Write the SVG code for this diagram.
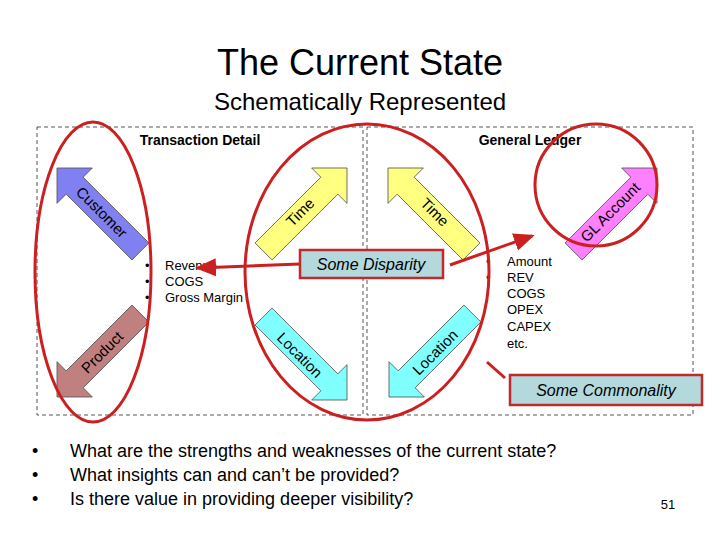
<svg xmlns="http://www.w3.org/2000/svg" width="720" height="540" viewBox="0 0 720 540">
<defs>
<style>
.t{font-family:"Liberation Sans",Arial,sans-serif;fill:#000}
.arr{stroke:#555;stroke-width:0.8}
.lbl{font-family:"Liberation Sans",Arial,sans-serif;font-size:15px;text-anchor:middle;dominant-baseline:central}
.panel{fill:none;stroke:#555;stroke-width:1;stroke-dasharray:4,3}
.ring{fill:none;stroke:#cc1f1f;stroke-width:3}
.box{fill:#b3d9dc;stroke:#c02a2a;stroke-width:2.5}
.rl{stroke:#cc1f1f;stroke-width:3;fill:none}
</style>
<path id="ar" d="M0,0 L-25,-25 L-25,-12 L-118,-12 L-118,12 L-25,12 L-25,25 Z"/>
<marker id="mh" markerWidth="8" markerHeight="8" refX="6" refY="4" orient="auto" markerUnits="strokeWidth"><path d="M0,1 L7,4 L0,7 Z" fill="#cc1f1f"/></marker>
</defs>
<rect width="720" height="540" fill="#fff"/>
<text class="t" x="360" y="75" font-size="36" text-anchor="middle">The Current State</text>
<text class="t" x="360" y="110" font-size="24" text-anchor="middle">Schematically Represented</text>
<rect class="panel" x="37" y="127" width="326" height="288"/>
<rect class="panel" x="367" y="127" width="326" height="288"/>
<text class="t" x="200" y="145" font-size="14" font-weight="bold" text-anchor="middle">Transaction Detail</text>
<text class="t" x="530" y="145" font-size="14" font-weight="bold" text-anchor="middle">General Ledger</text>

<g id="customer"><use href="#ar" class="arr" fill="#8080f0" transform="translate(57,168) rotate(225)"/><text class="lbl" transform="translate(102,212) rotate(45)">Customer</text></g>
<g id="product"><use href="#ar" class="arr" fill="#c08080" transform="translate(57,397) rotate(135)"/><text class="lbl" transform="translate(102,352) rotate(-45)">Product</text></g>
<g id="time-td"><use href="#ar" class="arr" fill="#ffff80" transform="translate(347,168) rotate(-45)"/><text class="lbl" transform="translate(300,212) rotate(-45)">Time</text></g>
<g id="location-td"><use href="#ar" class="arr" fill="#80ffff" transform="translate(347,400) rotate(45)"/><text class="lbl" transform="translate(300,355) rotate(45)">Location</text></g>
<g id="time-gl"><use href="#ar" class="arr" fill="#ffff80" transform="translate(388,168) rotate(225)"/><text class="lbl" transform="translate(435,212) rotate(45)">Time</text></g>
<g id="location-gl"><use href="#ar" class="arr" fill="#80ffff" transform="translate(389,397) rotate(135)"/><text class="lbl" transform="translate(435,352) rotate(-45)">Location</text></g>
<g id="glaccount"><use href="#ar" class="arr" fill="#ff80ff" transform="translate(657,168) rotate(-45)"/><text class="lbl" transform="translate(610,212) rotate(-45)">GL Account</text></g>

<g id="td-measures" class="t" font-size="13">
<text x="145" y="270">•</text><text x="165" y="270">Revenue</text>
<text x="145" y="286">•</text><text x="165" y="286">COGS</text>
<text x="145" y="302">•</text><text x="165" y="302">Gross Margin</text>
</g>
<g id="gl-measures" class="t" font-size="13">
<text x="486" y="266">•</text><text x="507" y="266">Amount</text>
<text x="486" y="282">•</text><text x="507" y="282">REV</text>
<text x="507" y="298">COGS</text>
<text x="507" y="314">OPEX</text>
<text x="507" y="331">CAPEX</text>
<text x="507" y="348">etc.</text>
</g>

<g id="rings">
<ellipse class="ring" cx="93" cy="272" rx="58" ry="150"/>
<ellipse class="ring" cx="367" cy="272" rx="122" ry="148"/>
<circle class="ring" cx="596" cy="185" r="61"/>
</g>

<g id="connectors">
<line class="rl" x1="300" y1="264" x2="198" y2="268" marker-end="url(#mh)"/>
<line class="rl" x1="450" y1="265" x2="532" y2="236" marker-end="url(#mh)"/>
<line class="rl" x1="505" y1="378" x2="487" y2="362"/>
</g>
<g id="disparity"><rect class="box" x="300" y="250" width="143" height="28"/><text class="t" x="371" y="270" font-size="16" font-style="italic" text-anchor="middle">Some Disparity</text></g>
<g id="commonality"><rect class="box" x="510" y="375" width="192" height="30"/><text class="t" x="606" y="396" font-size="16" font-style="italic" text-anchor="middle">Some Commonality</text></g>

<g class="t" font-size="18">
<text x="32" y="457">•</text><text x="70" y="457">What are the strengths and weaknesses of the current state?</text>
<text x="32" y="481">•</text><text x="70" y="481">What insights can and can’t be provided?</text>
<text x="32" y="505">•</text><text x="70" y="505">Is there value in providing deeper visibility?</text>
</g>
<text class="t" x="668" y="509" font-size="13" text-anchor="middle">51</text>
</svg>
